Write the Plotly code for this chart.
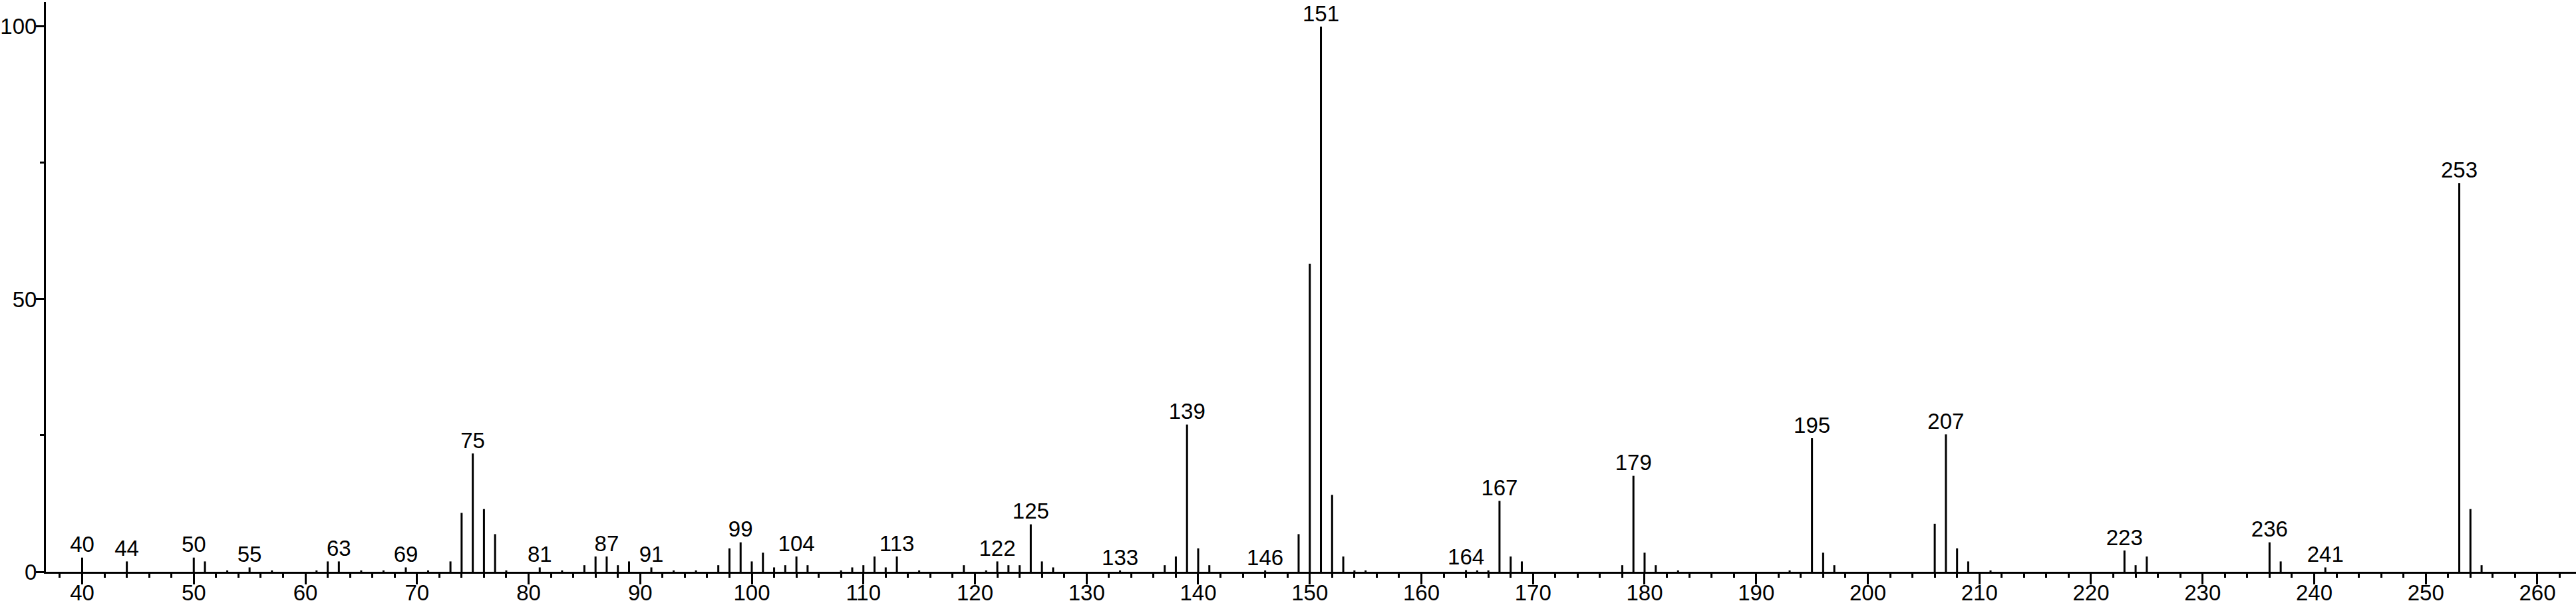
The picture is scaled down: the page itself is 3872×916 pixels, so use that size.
import plotly.graph_objects as go

# m/z values and relative intensities
mz = [40, 44, 50, 51, 53, 55, 57, 61, 62, 63, 65, 67, 69, 71, 73, 74, 75, 76, 77, 78,
      81, 83, 85, 86, 87, 88, 89, 91, 93, 95, 97, 98, 99, 100, 101, 102, 103, 104, 105,
      108, 109, 110, 111, 112, 113, 115, 119, 121, 122, 123, 124, 125, 126, 127, 133,
      137, 138, 139, 140, 141, 146, 149, 150, 151, 152, 153, 154, 155, 164, 165, 166,
      167, 168, 169, 178, 179, 180, 181, 183, 193, 195, 196, 197, 206, 207, 208, 209,
      211, 223, 224, 225, 236, 237, 241, 253, 254, 255]
intensity = [2.6, 1.9, 2.6, 1.9, 0.2, 0.8, 0.2, 0.2, 1.9, 1.9, 0.2, 0.2, 0.8, 0.2, 1.9, 10.8, 21.7, 11.5, 6.9, 0.2,
             0.8, 0.2, 1.2, 2.8, 2.8, 1.2, 1.9, 0.8, 0.2, 0.2, 1.2, 4.3, 5.4, 1.9, 3.5, 0.8, 1.2, 2.8, 1.2,
             0.2, 0.8, 1.2, 2.8, 0.8, 2.8, 0.2, 1.2, 0.2, 1.9, 1.2, 1.2, 8.7, 1.9, 0.8, 0.2,
             1.2, 2.8, 27.0, 4.3, 1.2, 0.2, 6.9, 56.5, 100.0, 14.1, 2.8, 0.2, 0.2, 0.3, 0.2, 0.2,
             13.0, 2.8, 1.9, 1.2, 17.6, 3.5, 1.2, 0.2, 0.2, 24.5, 3.5, 1.2, 8.8, 25.2, 4.3, 1.9,
             0.2, 3.9, 1.2, 2.8, 5.4, 1.9, 0.8, 71.3, 11.5, 1.2]

labeled = [40, 44, 50, 55, 63, 69, 75, 81, 87, 91, 99, 104, 113, 122, 125, 133, 139, 146,
           151, 164, 167, 179, 195, 207, 223, 236, 241, 253]

x_ticks = [40, 50, 60, 70, 80, 90, 100, 110, 120, 130, 140, 150, 160, 170, 180, 190,
           200, 210, 220, 230, 240, 250, 260]
y_ticks = [0, 50, 100]

lookup = dict(zip(mz, intensity))
lab_x = labeled
lab_y = [lookup[m] for m in labeled]
lab_t = [str(m) for m in labeled]

FONT = "Liberation Sans, Arial, sans-serif"
FS = 33

fig = go.Figure()
fig.add_trace(go.Bar(x=mz, y=intensity, width=0.18,
                     marker=dict(color="black", line=dict(width=0)),
                     showlegend=False, hoverinfo="x+y"))
fig.add_trace(go.Scatter(x=lab_x, y=lab_y, text=lab_t, mode="text",
                         textposition="top center", cliponaxis=False,
                         textfont=dict(family=FONT, size=FS, color="black"),
                         showlegend=False, hoverinfo="skip"))

fig.update_layout(
    template="none",
    width=3872, height=916,
    margin=dict(l=69, r=0, t=3, b=56, pad=0),
    plot_bgcolor="white", paper_bgcolor="white",
    font=dict(family=FONT, size=FS, color="black"),
    xaxis=dict(range=[36.75, 263.46], tickvals=x_ticks, ticks="outside",
               ticklen=16, tickwidth=3, tickcolor="black",
               ticklabelstandoff=-16, automargin=False,
               showline=True, linewidth=3, linecolor="black",
               showgrid=False, zeroline=False,
               minor=dict(dtick=2, tick0=0, ticks="outside", ticklen=6,
                          tickwidth=3, tickcolor="black", showgrid=False),
               tickfont=dict(family=FONT, size=FS, color="black")),
    yaxis=dict(range=[0, 104.5], tickvals=y_ticks, ticks="outside",
               ticklen=12, tickwidth=3, tickcolor="black",
               ticklabelstandoff=-8, automargin=False,
               showline=True, linewidth=3, linecolor="black",
               showgrid=False, zeroline=False,
               minor=dict(dtick=25, tick0=0, ticks="outside", ticklen=6,
                          tickwidth=3, tickcolor="black", showgrid=False),
               tickfont=dict(family=FONT, size=FS, color="black")),
)

fig.write_html("out.html",
               config={"displayModeBar": False},
               post_script="document.body.style.margin='0px';"
                           "document.body.style.overflow='hidden';")
